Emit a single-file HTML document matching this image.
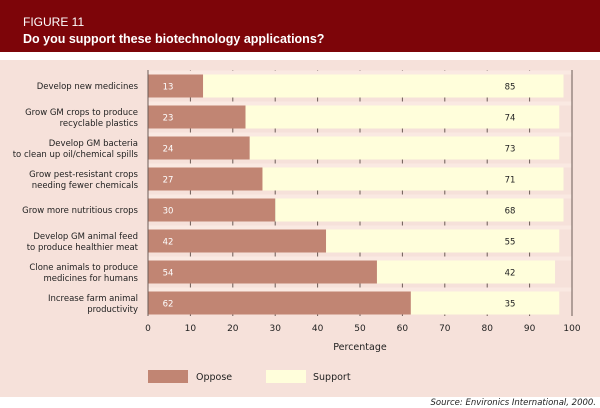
<!DOCTYPE html>
<html><head><style>
body{margin:0;width:600px;height:408px;background:#fff;font-family:"DejaVu Sans","Liberation Sans",sans-serif;position:relative;overflow:hidden}
.hdr{position:absolute;left:0;top:0;width:600px;height:52px;background:#7d0509;color:#fff}
.panel{position:absolute;left:0;top:60px;width:600px;height:337px;background:#f6e1da}
</style></head><body>
<div class="hdr">
<div style="position:absolute;left:23px;top:15px;font-size:12px;font-family:'Liberation Sans',sans-serif">FIGURE 11</div>
<div style="position:absolute;left:23px;top:32px;font-size:12.5px;font-weight:bold;font-family:'Liberation Sans',sans-serif">Do you support these biotechnology applications?</div>
</div>
<div class="panel"></div>
<svg width="600" height="408" style="position:absolute;left:0;top:0" font-family="DejaVu Sans, Liberation Sans, sans-serif">
<g id="grid" stroke="#6b5a55" stroke-width="1"></g>
<g id="bars"></g>
<line x1="148" y1="70" x2="148" y2="316" stroke="#6b5a55"/>
<line x1="572" y1="70" x2="572" y2="316" stroke="#6b5a55"/>
<g font-size="9" fill="#222" text-anchor="middle" id="ticks"></g>
<text x="360" y="350" font-size="9.5" text-anchor="middle" fill="#222">Percentage</text>
<rect x="148" y="370" width="40" height="13" fill="#c18573"/>
<text x="196" y="380" font-size="9.5" fill="#222">Oppose</text>
<rect x="266" y="370" width="40" height="13" fill="#fffedb"/>
<text x="313" y="380" font-size="9.5" fill="#222">Support</text>
<text x="596" y="405" font-size="8.5" text-anchor="end" fill="#222" font-style="italic">Source: Environics International, 2000.</text>
</svg>
<script>
var d=[["Develop new medicines","",13,85],["Grow GM crops to produce","recyclable plastics",23,74],["Develop GM bacteria","to clean up oil/chemical spills",24,73],["Grow pest-resistant crops","needing fewer chemicals",27,71],["Grow more nutritious crops","",30,68],["Develop GM animal feed","to produce healthier meat",42,55],["Clone animals to produce","medicines for humans",54,42],["Increase farm animal","productivity",62,35]];
var s="",g="",t="",k=4.24;
for(var i=0;i<=10;i++){var x=148+i*42.4;g+='<line x1="'+x+'" y1="70" x2="'+x+'" y2="316"/>';t+='<text x="'+x+'" y="331">'+(i*10)+'</text>';}
for(var i=0;i<8;i++){var c=86+i*31,y=c-11.5;
s+='<rect x="148" y="'+(y-4)+'" width="424" height="4" fill="#fae9e2"/>';
s+='<rect x="148" y="'+y+'" width="'+(d[i][2]*k)+'" height="23" fill="#c18573"/>';
s+='<rect x="'+(148+d[i][2]*k)+'" y="'+y+'" width="'+(d[i][3]*k)+'" height="23" fill="#fffedb"/>';
s+='<text x="168" y="'+(c+3.5)+'" font-size="8.5" fill="#fff" text-anchor="middle">'+d[i][2]+'</text>';
s+='<text x="510" y="'+(c+3.5)+'" font-size="8.5" fill="#222" text-anchor="middle">'+d[i][3]+'</text>';
if(d[i][1]){s+='<text x="138" y="'+(c-2)+'" font-size="8.5" fill="#222" text-anchor="end">'+d[i][0]+'</text><text x="138" y="'+(c+9)+'" font-size="8.5" fill="#222" text-anchor="end">'+d[i][1]+'</text>';}
else s+='<text x="138" y="'+(c+3)+'" font-size="8.5" fill="#222" text-anchor="end">'+d[i][0]+'</text>';}
document.getElementById("grid").innerHTML=g;document.getElementById("bars").innerHTML=s;document.getElementById("ticks").innerHTML=t;
</script>
</body></html>
